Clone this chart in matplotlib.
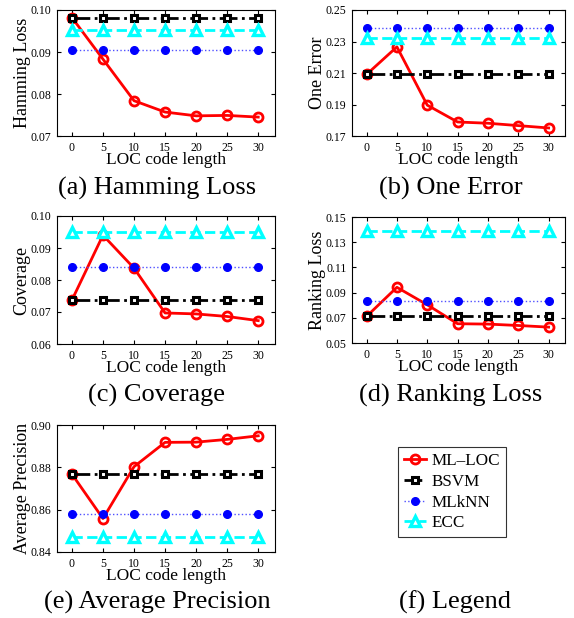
import matplotlib
matplotlib.use("Agg")
import matplotlib.pyplot as plt

plt.rcParams['font.family'] = ['Liberation Serif', 'DejaVu Serif']
plt.rcParams['mathtext.fontset'] = 'stix'

code_lengths = [0, 5, 10, 15, 20, 25, 30]
methods = ["ML\u2013LOC", "BSVM", "MLkNN", "ECC"]

hamming_mlloc = [0.0982, 0.0883, 0.0784, 0.0757, 0.0748, 0.0749, 0.0745]
hamming_bsvm = 0.0982
hamming_mlknn = 0.0904
hamming_ecc = 0.0952

oneerr_mlloc = [0.2091, 0.2266, 0.1896, 0.1789, 0.1781, 0.1766, 0.1751]
oneerr_bsvm = 0.2091
oneerr_mlknn = 0.2385
oneerr_ecc = 0.2321

coverage_mlloc = [0.0737, 0.0940, 0.0837, 0.0697, 0.0694, 0.0686, 0.0673]
coverage_bsvm = 0.0737
coverage_mlknn = 0.0842
coverage_ecc = 0.0950

rankloss_mlloc = [0.0711, 0.0942, 0.0803, 0.0653, 0.0650, 0.0639, 0.0626]
rankloss_bsvm = 0.0711
rankloss_mlknn = 0.0837
rankloss_ecc = 0.1387

avgprec_mlloc = [0.8768, 0.8558, 0.8803, 0.8918, 0.8919, 0.8932, 0.8949]
avgprec_bsvm = 0.8768
avgprec_mlknn = 0.8578
avgprec_ecc = 0.8471

W, H = 574, 618
fig = plt.figure(figsize=(W / 100, H / 100), dpi=100)


def px_axes(left, top, right, bottom):
    return fig.add_axes([left / W, 1 - bottom / H, (right - left) / W, (bottom - top) / H])


def draw(ax, mlloc, bsvm, mlknn, ecc, ylim, yticks, ylabel, caption, cap_x, cap_y):
    n = len(code_lengths)
    h1, = ax.plot(code_lengths, mlloc, color='red', lw=2.0, marker='o', ms=6.5,
                  mfc='none', mec='red', mew=2.0, label=methods[0])
    h2, = ax.plot(code_lengths, [bsvm] * n, color='black', lw=2.0, ls='-.', marker='s', ms=5,
                  mfc='white', mec='black', mew=2.2, label=methods[1])
    h3, = ax.plot(code_lengths, [mlknn] * n, color='#5050ff', lw=1.0, ls=':', marker='o', ms=5.5,
                  mfc='blue', mec='blue', label=methods[2])
    h4, = ax.plot(code_lengths, [ecc] * n, color='cyan', lw=2.0, ls='--', marker='^', ms=7.5,
                  mfc='white', mec='cyan', mew=2.4, label=methods[3])
    ax.set_xlim(-2.4, 32.7)
    ax.set_ylim(*ylim)
    ax.set_xticks(code_lengths)
    ax.set_yticks(yticks)
    ax.set_yticklabels([f"{t:.2f}" for t in yticks])
    ax.tick_params(direction='in', top=True, right=True, labelsize=8.5, length=3, pad=4)
    ax.set_xlabel("LOC code length", fontsize=12.5, labelpad=-1)
    ax.set_ylabel(ylabel, fontsize=13, labelpad=0)
    for s in ax.spines.values():
        s.set_linewidth(0.8)
    fig.text(cap_x / W, 1 - cap_y / H, caption, ha='center', va='center', fontsize=19)
    return [h1, h2, h3, h4]


ax_a = px_axes(57, 10, 275, 136)
handles = draw(ax_a, hamming_mlloc, hamming_bsvm, hamming_mlknn, hamming_ecc,
               (0.07, 0.10), [0.07, 0.08, 0.09, 0.10], "Hamming Loss", "(a) Hamming Loss", 157, 188)
ax_b = px_axes(352, 10, 565, 136)
draw(ax_b, oneerr_mlloc, oneerr_bsvm, oneerr_mlknn, oneerr_ecc,
     (0.17, 0.25), [0.17, 0.19, 0.21, 0.23, 0.25], "One Error", "(b) One Error", 451, 188)
ax_c = px_axes(57, 216, 275, 344)
draw(ax_c, coverage_mlloc, coverage_bsvm, coverage_mlknn, coverage_ecc,
     (0.06, 0.10), [0.06, 0.07, 0.08, 0.09, 0.10], "Coverage", "(c) Coverage", 157, 395)
ax_d = px_axes(352, 217, 565, 343)
draw(ax_d, rankloss_mlloc, rankloss_bsvm, rankloss_mlknn, rankloss_ecc,
     (0.05, 0.15), [0.05, 0.07, 0.09, 0.11, 0.13, 0.15], "Ranking Loss", "(d) Ranking Loss", 451, 395)
ax_e = px_axes(57, 425, 275, 552)
draw(ax_e, avgprec_mlloc, avgprec_bsvm, avgprec_mlknn, avgprec_ecc,
     (0.84, 0.90), [0.84, 0.86, 0.88, 0.90], "Average Precision", "(e) Average Precision", 157, 602)

leg = fig.legend(handles, methods, loc='upper left', bbox_to_anchor=(398 / W, 1 - 447 / H),
                 frameon=True, fancybox=False, edgecolor='black', fontsize=12.3,
                 handlelength=1.3, handletextpad=0.3, borderpad=0.35, labelspacing=0.28,
                 borderaxespad=0)
leg.get_frame().set_linewidth(0.8)
fig.text(455 / W, 1 - 602 / H, "(f) Legend", ha='center', va='center', fontsize=19)

fig.savefig("out.png", dpi=100)
